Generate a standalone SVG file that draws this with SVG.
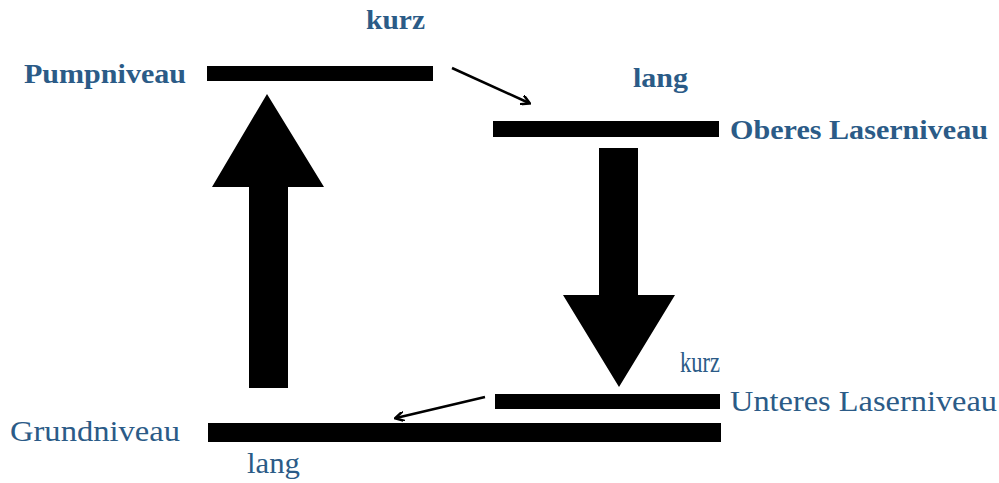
<svg xmlns="http://www.w3.org/2000/svg" width="999" height="483" viewBox="0 0 999 483">
<style>
.lbl{font-family:"Liberation Serif","DejaVu Serif",serif;font-weight:bold;font-size:27px;fill:#2b5b87}
.cond{font-family:"Liberation Serif","DejaVu Serif",serif;font-weight:normal;font-size:29px;fill:#2b5b87}
.bar{fill:#000}
.thin{stroke:#000;stroke-width:2.5;fill:none}
</style>
<defs>
<marker id="ah" markerWidth="10" markerHeight="10" refX="8" refY="5" orient="auto" markerUnits="userSpaceOnUse">
<path d="M0,0 L9,5 L0,10" fill="none" stroke="#000" stroke-width="2.5"/>
</marker>
</defs>
<rect width="999" height="483" fill="#fff"/>
<g id="pumpniveau">
<rect class="bar" x="207" y="66" width="226" height="15"/>
<text class="lbl" x="24" y="83" textLength="162" lengthAdjust="spacingAndGlyphs">Pumpniveau</text>
</g>
<g id="oberes">
<rect class="bar" x="493" y="121" width="226" height="16"/>
<text class="lbl" x="730" y="139" textLength="258" lengthAdjust="spacingAndGlyphs">Oberes Laserniveau</text>
</g>
<g id="unteres">
<rect class="bar" x="495" y="394" width="225" height="15"/>
<text class="cond" x="730" y="411" textLength="267" lengthAdjust="spacingAndGlyphs">Unteres Laserniveau</text>
</g>
<g id="grundniveau">
<rect class="bar" x="208" y="423" width="513" height="19"/>
<text class="cond" x="10" y="441" textLength="170" lengthAdjust="spacingAndGlyphs">Grundniveau</text>
</g>
<g id="labels">
<text class="lbl" x="366" y="29" textLength="59" lengthAdjust="spacingAndGlyphs">kurz</text>
<text class="lbl" x="633" y="87" textLength="55" lengthAdjust="spacingAndGlyphs">lang</text>
<text class="cond" x="680" y="372" textLength="40" lengthAdjust="spacingAndGlyphs">kurz</text>
<text class="cond" x="247" y="473" textLength="53" lengthAdjust="spacingAndGlyphs">lang</text>
</g>
<g id="connectors">
<polygon points="267,94 324,187 288,187 288,388 249,388 249,187 212,187" fill="#000"/>
<polygon points="599,148 638,148 638,295 675,295 619,387 563,295 599,295" fill="#000"/>
<line class="thin" x1="452" y1="68" x2="529" y2="103" marker-end="url(#ah)"/>
<line class="thin" x1="485" y1="397" x2="396" y2="418" marker-end="url(#ah)"/>
</g>
</svg>
